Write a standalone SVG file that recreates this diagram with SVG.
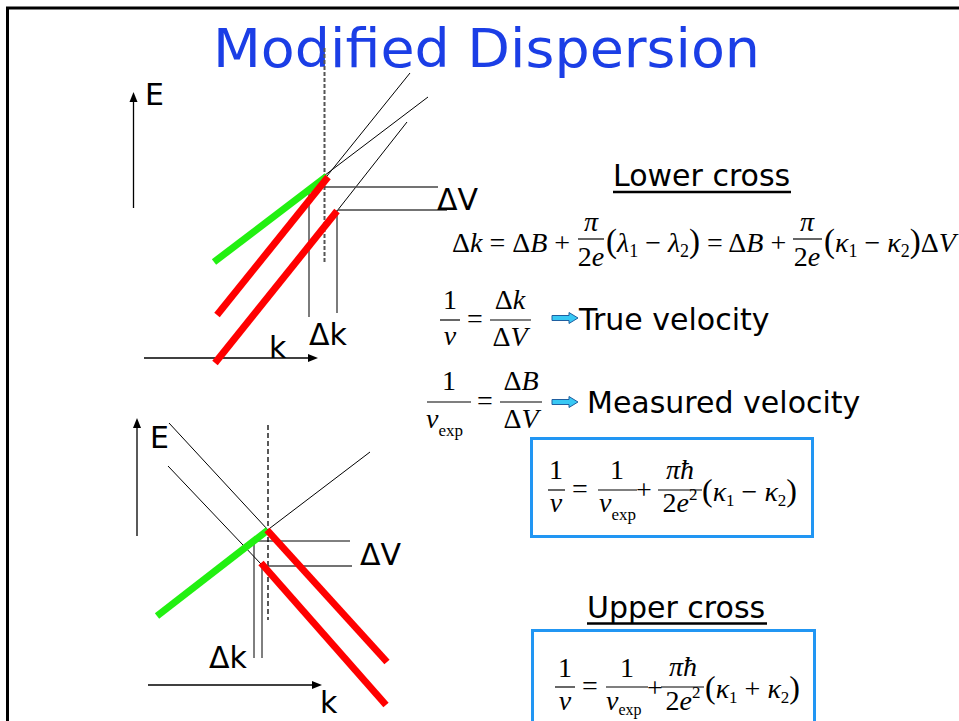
<svg xmlns="http://www.w3.org/2000/svg" width="959" height="721" viewBox="0 0 959 721">
<defs>
<style>
.lbl{font-family:"DejaVu Sans","Liberation Sans",sans-serif;font-size:30px;fill:#000}
.m{font-family:"Liberation Serif","Times New Roman",serif;font-size:28px;fill:#000}
.i{font-style:italic}
.thin{stroke:#000;stroke-width:1;fill:none}
.guide{stroke:#444;stroke-width:1.4;fill:none}
.axis{stroke:#000;stroke-width:1.3;fill:none}
.green{stroke:#22f011;stroke-width:7;stroke-linecap:butt}
.red{stroke:#ff0000;stroke-width:7;stroke-linecap:butt}
.bar{stroke:#000;stroke-width:1.2}
.box{fill:none;stroke:#2196f3;stroke-width:3}
.barrow{fill:#38c8f4;stroke:#1f5fa0;stroke-width:1}
</style>
</defs>
<rect x="0" y="0" width="959" height="721" fill="#fff"/>
<!-- frame -->
<line x1="6" y1="8" x2="959" y2="8" stroke="#000" stroke-width="3"/>
<line x1="7.5" y1="7" x2="7.5" y2="721" stroke="#000" stroke-width="3"/>
<!-- title -->
<text x="213" y="67" font-family="DejaVu Sans, Liberation Sans, sans-serif" font-size="54" fill="#1b3ee6" textLength="547" lengthAdjust="spacingAndGlyphs">Modified Dispersion</text>

<!-- top diagram -->
<g id="top-plot">
<line class="axis" x1="133.5" y1="100" x2="133.5" y2="208"/>
<polygon points="133.5,92 129.5,102 137.5,102" fill="#000"/>
<line class="axis" x1="144" y1="358" x2="310" y2="358"/>
<polygon points="318,358 308,354 308,362" fill="#000"/>
<line x1="324.5" y1="48" x2="324.5" y2="263" stroke="#555" stroke-width="2" stroke-dasharray="4 2"/>
<line class="thin" x1="327" y1="176" x2="410" y2="73"/>
<line class="thin" x1="308" y1="188" x2="428" y2="97"/>
<line class="thin" x1="337" y1="211" x2="407" y2="122"/>
<line class="guide" x1="309" y1="187" x2="438" y2="187"/>
<line class="guide" x1="338" y1="210" x2="447" y2="210"/>
<line class="guide" x1="309" y1="187" x2="309" y2="317"/>
<line class="guide" x1="337" y1="210" x2="337" y2="313"/>
<line class="green" x1="214" y1="262" x2="327" y2="176"/>
<line class="red" x1="217" y1="315" x2="328" y2="177"/>
<line class="red" x1="215" y1="363" x2="337" y2="211"/>
<text class="lbl" x="145" y="105">E</text>
<text class="lbl" x="269" y="358">k</text>
<text class="lbl" x="309" y="345">Δk</text>
<text class="lbl" x="437" y="210">ΔV</text>
</g>

<!-- bottom diagram -->
<g id="bottom-plot">
<line class="axis" x1="137" y1="426" x2="137" y2="536"/>
<polygon points="137,418 133,428 141,428" fill="#000"/>
<line class="axis" x1="148" y1="685" x2="314" y2="685"/>
<polygon points="322,685 312,681 312,689" fill="#000"/>
<line x1="268" y1="425" x2="268" y2="620" stroke="#000" stroke-width="1.3" stroke-dasharray="5 3"/>
<line class="thin" x1="169" y1="423" x2="268" y2="530"/>
<line class="thin" x1="168" y1="466" x2="261" y2="564"/>
<line class="thin" x1="257" y1="538" x2="370" y2="452"/>
<line class="thin" x1="254" y1="541" x2="350" y2="541"/>
<line class="guide" x1="262" y1="566" x2="352" y2="566"/>
<line class="thin" x1="254" y1="541" x2="254" y2="658"/>
<line class="thin" x1="262" y1="566" x2="262" y2="658"/>
<line class="green" x1="157" y1="616" x2="268" y2="530"/>
<line class="red" x1="267" y1="530" x2="387" y2="662"/>
<line class="red" x1="261" y1="563" x2="386" y2="705"/>
<text class="lbl" x="150" y="448">E</text>
<text class="lbl" x="320" y="713">k</text>
<text class="lbl" x="360" y="565">ΔV</text>
<text class="lbl" x="209" y="668">Δk</text>
</g>

<!-- Lower cross -->
<g id="lower-cross">
<text class="lbl" x="613" y="186">Lower cross</text>
<line x1="613" y1="192" x2="791" y2="192" stroke="#000" stroke-width="2.5"/>
</g>

<!-- equation 1 -->
<g id="eq1">
<text class="m" font-size="29" x="452" y="252">Δ<tspan class="i">k</tspan> = Δ<tspan class="i">B</tspan> +</text>
<text class="m i" font-size="29" x="591" y="231" text-anchor="middle">π</text>
<line class="bar" x1="578" y1="239" x2="604" y2="239"/>
<text class="m" font-size="29" x="591" y="266" text-anchor="middle">2<tspan class="i">e</tspan></text>
<text class="m" font-size="29" x="606" y="252"><tspan font-size="33">(</tspan><tspan class="i">λ</tspan><tspan font-size="18" dy="5">1</tspan><tspan dy="-5"> − </tspan><tspan class="i">λ</tspan><tspan font-size="18" dy="5">2</tspan><tspan dy="-5" font-size="33">)</tspan> = Δ<tspan class="i">B</tspan> +</text>
<text class="m i" font-size="29" x="807" y="231" text-anchor="middle">π</text>
<line class="bar" x1="793" y1="239" x2="822" y2="239"/>
<text class="m" font-size="29" x="807" y="266" text-anchor="middle">2<tspan class="i">e</tspan></text>
<text class="m" font-size="29" x="824" y="252"><tspan font-size="33">(</tspan><tspan class="i">κ</tspan><tspan font-size="18" dy="5">1</tspan><tspan dy="-5"> − </tspan><tspan class="i">κ</tspan><tspan font-size="18" dy="5">2</tspan><tspan dy="-5" font-size="33">)</tspan>Δ<tspan class="i">V</tspan></text>
</g>

<!-- equation 2 -->
<g id="eq2">
<text class="m" x="450" y="309" text-anchor="middle">1</text>
<line class="bar" x1="440" y1="320" x2="460" y2="320"/>
<text class="m i" x="450" y="345" text-anchor="middle">v</text>
<text class="m" x="475" y="328" text-anchor="middle">=</text>
<text class="m" x="510" y="309" text-anchor="middle">Δ<tspan class="i">k</tspan></text>
<line class="bar" x1="490" y1="320" x2="531" y2="320"/>
<text class="m" x="510" y="346" text-anchor="middle">Δ<tspan class="i">V</tspan></text>
<path class="barrow" d="M552,315.5 H569 V312.5 L578,318 L569,323.5 V320.5 H552 Z"/>
<text class="lbl" x="579" y="330">True velocity</text>
</g>

<!-- equation 3 -->
<g id="eq3">
<text class="m" x="449" y="390" text-anchor="middle">1</text>
<line class="bar" x1="427" y1="402" x2="471" y2="402"/>
<text class="m" x="426" y="428"><tspan class="i">v</tspan><tspan font-size="17" dy="8">exp</tspan></text>
<text class="m" x="485" y="410" text-anchor="middle">=</text>
<text class="m" x="521" y="390" text-anchor="middle">Δ<tspan class="i">B</tspan></text>
<line class="bar" x1="500" y1="402" x2="542" y2="402"/>
<text class="m" x="521" y="428" text-anchor="middle">Δ<tspan class="i">V</tspan></text>
<path class="barrow" d="M552,399.5 H569 V396.5 L578,402 L569,407.5 V404.5 H552 Z"/>
<text class="lbl" x="587" y="413">Measured velocity</text>
</g>

<!-- box 1 -->
<g id="box-lower">
<rect class="box" x="531.5" y="438.5" width="281" height="98"/>
<text class="m" x="556" y="479" text-anchor="middle">1</text>
<line class="bar" x1="548" y1="490" x2="565" y2="490"/>
<text class="m i" x="556" y="512" text-anchor="middle">v</text>
<text class="m" x="580" y="498" text-anchor="middle">=</text>
<text class="m" x="617" y="479" text-anchor="middle">1</text>
<line class="bar" x1="598" y1="490" x2="637" y2="490"/>
<text class="m" x="599" y="512"><tspan class="i">v</tspan><tspan font-size="17" dy="8">exp</tspan></text>
<text class="m" x="644" y="499" text-anchor="middle">+</text>
<text class="m i" x="680" y="479" text-anchor="middle">πħ</text>
<line class="bar" x1="658" y1="490" x2="702" y2="490"/>
<text class="m" x="680" y="512" text-anchor="middle">2<tspan class="i">e</tspan><tspan font-size="17" dy="-12">2</tspan></text>
<text class="m" x="702" y="501"><tspan font-size="32">(</tspan><tspan class="i">κ</tspan><tspan font-size="17" dy="5">1</tspan><tspan dy="-5"> − </tspan><tspan class="i">κ</tspan><tspan font-size="17" dy="5">2</tspan><tspan dy="-5" font-size="32">)</tspan></text>
</g>

<!-- Upper cross -->
<g id="upper-cross">
<text class="lbl" x="587" y="618">Upper cross</text>
<line x1="587" y1="623.5" x2="767" y2="623.5" stroke="#000" stroke-width="2.5"/>
</g>

<!-- box 2 -->
<g id="box-upper">
<rect class="box" x="532.5" y="630.5" width="282" height="100"/>
<text class="m" x="565" y="677" text-anchor="middle">1</text>
<line class="bar" x1="555" y1="687" x2="575" y2="687"/>
<text class="m i" x="565" y="710" text-anchor="middle">v</text>
<text class="m" x="590" y="695" text-anchor="middle">=</text>
<text class="m" x="627" y="677" text-anchor="middle">1</text>
<line class="bar" x1="606" y1="687" x2="648" y2="687"/>
<text class="m" x="606" y="710"><tspan class="i">v</tspan><tspan font-size="16" dy="5">exp</tspan></text>
<text class="m" x="655" y="697" text-anchor="middle">+</text>
<text class="m i" x="683" y="676" text-anchor="middle">πħ</text>
<line class="bar" x1="661" y1="687" x2="704" y2="687"/>
<text class="m" x="683" y="710" text-anchor="middle">2<tspan class="i">e</tspan><tspan font-size="17" dy="-12">2</tspan></text>
<text class="m" x="705" y="698"><tspan font-size="32">(</tspan><tspan class="i">κ</tspan><tspan font-size="17" dy="5">1</tspan><tspan dy="-5"> + </tspan><tspan class="i">κ</tspan><tspan font-size="17" dy="5">2</tspan><tspan dy="-5" font-size="32">)</tspan></text>
</g>
</svg>
